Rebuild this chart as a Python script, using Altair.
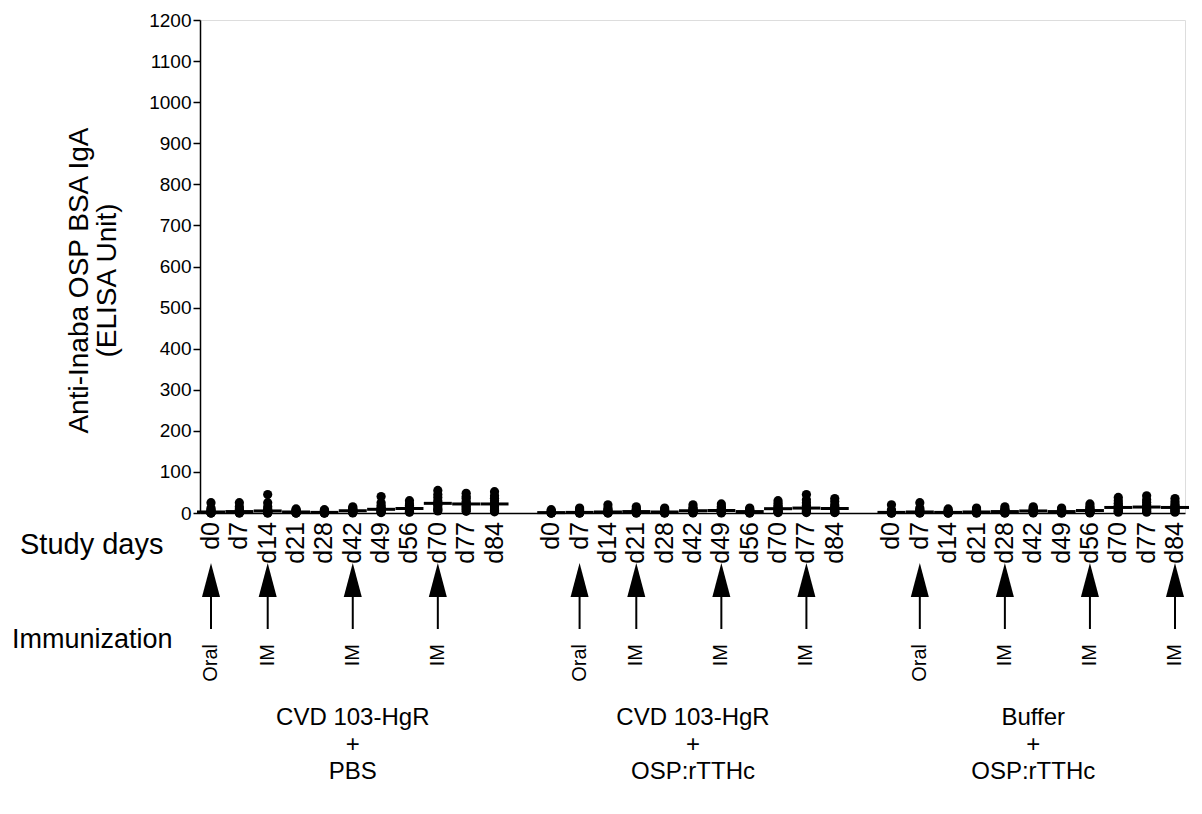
import altair as alt
import pandas as pd

FONT = "Liberation Sans"

group_labels = ["CVD 103-HgR\n+\nPBS", "CVD 103-HgR\n+\nOSP:rTTHc", "Buffer\n+\nOSP:rTTHc"]
days = ["d0", "d7", "d14", "d21", "d28", "d42", "d49", "d56", "d70", "d77", "d84"]

# ELISA units per animal, one list per study day
g1_values = [
    [0, 0, 0, 1, 2, 3, 5, 8, 12, 25],
    [0, 0, 1, 2, 3, 4, 6, 10, 15, 25],
    [0, 0, 1, 2, 4, 6, 10, 15, 25, 45],
    [0, 0, 0, 1, 2, 3, 4, 5, 7, 10],
    [0, 0, 0, 1, 1, 2, 3, 4, 6, 8],
    [0, 1, 2, 3, 5, 6, 8, 10, 12, 15],
    [1, 2, 4, 6, 8, 10, 14, 18, 25, 40],
    [2, 3, 5, 8, 10, 12, 15, 18, 22, 30],
    [5, 8, 12, 18, 22, 25, 30, 38, 45, 55],
    [4, 8, 12, 16, 20, 24, 28, 35, 40, 48],
    [3, 6, 10, 15, 20, 24, 30, 36, 42, 52],
]
g2_values = [
    [0, 0, 0, 0, 1, 1, 2, 3, 5, 8],
    [0, 0, 0, 1, 1, 2, 3, 5, 8, 12],
    [0, 0, 1, 1, 2, 3, 5, 8, 12, 20],
    [0, 0, 1, 2, 3, 4, 6, 8, 10, 15],
    [0, 0, 1, 1, 2, 3, 4, 6, 8, 12],
    [0, 1, 2, 3, 5, 6, 8, 10, 14, 20],
    [0, 1, 2, 4, 5, 7, 9, 12, 16, 22],
    [0, 0, 1, 2, 3, 4, 5, 7, 9, 12],
    [1, 2, 4, 6, 9, 12, 15, 18, 24, 30],
    [1, 3, 5, 8, 10, 14, 18, 25, 32, 45],
    [1, 2, 4, 7, 10, 12, 16, 20, 28, 35],
]
g3_values = [
    [0, 0, 0, 1, 1, 2, 3, 5, 8, 20],
    [0, 0, 1, 1, 2, 3, 5, 8, 12, 25],
    [0, 0, 0, 1, 1, 2, 3, 4, 6, 10],
    [0, 0, 1, 1, 2, 3, 4, 6, 8, 12],
    [0, 0, 1, 2, 3, 4, 5, 8, 10, 15],
    [0, 1, 2, 3, 4, 6, 8, 10, 12, 15],
    [0, 0, 1, 2, 3, 4, 5, 7, 9, 12],
    [0, 1, 2, 3, 5, 7, 9, 12, 16, 22],
    [2, 4, 6, 9, 12, 15, 18, 24, 30, 38],
    [2, 4, 7, 10, 13, 16, 20, 26, 32, 42],
    [2, 4, 6, 9, 12, 15, 18, 22, 28, 35],
]
immun_days = [["d0", "d14", "d42", "d70"], ["d7", "d21", "d49", "d77"], ["d7", "d28", "d56", "d84"]]
immun_routes = [["Oral", "IM", "IM", "IM"], ["Oral", "IM", "IM", "IM"], ["Oral", "IM", "IM", "IM"]]
y_ticks = list(range(0, 1201, 100))

all_values = [g1_values, g2_values, g3_values]
SLOTS_PER_GROUP = len(days) + 1

pts, lbls, arrows, grp = [], [], [], []
for g, gvals in enumerate(all_values):
    for i, d in enumerate(days):
        slot = g * SLOTS_PER_GROUP + i
        lbls.append({"slot": slot, "day": d})
        for v in gvals[i]:
            pts.append({"slot": slot, "value": v})
    for d, r in zip(immun_days[g], immun_routes[g]):
        arrows.append({"slot": g * SLOTS_PER_GROUP + days.index(d), "route": r})
    grp.append({"slot": g * SLOTS_PER_GROUP + (len(days) - 1) / 2, "label": group_labels[g]})

pts_df = pd.DataFrame(pts)
lbl_df = pd.DataFrame(lbls)
arr_df = pd.DataFrame(arrows)
grp_df = pd.DataFrame(grp)

xscale = alt.Scale(domain=[-0.388, 34.353], nice=False, zero=False)
yscale = alt.Scale(domain=[0, 1200], nice=False)

xaxis = alt.Axis(labels=False, ticks=False, grid=False, title=None, domainColor="black", domainWidth=1.5)
yaxis = alt.Axis(values=y_ticks, format="d", grid=False, title=["Anti-Inaba OSP BSA IgA", "(ELISA Unit)"],
                 tickSize=7, tickWidth=1.5, tickColor="black", domainColor="black", domainWidth=1.5,
                 labelFont=FONT, labelFontSize=19, labelColor="black", labelPadding=2,
                 titleFont=FONT, titleFontSize=28, titleFontWeight="normal", titleColor="black",
                 titleLineHeight=28, titlePadding=27, titleY=260)

base_x = alt.X("slot:Q", scale=xscale, axis=xaxis)

points = alt.Chart(pts_df).mark_circle(size=85, color="black", opacity=1).encode(
    x=base_x, y=alt.Y("value:Q", scale=yscale, axis=yaxis)
)
medians = alt.Chart(pts_df).transform_aggregate(
    median="median(value)", groupby=["slot"]
).mark_tick(orient="horizontal", size=28, thickness=3, color="black", opacity=1).encode(
    x=alt.X("slot:Q", scale=xscale), y=alt.Y("median:Q", scale=yscale)
)
day_text = alt.Chart(lbl_df).mark_text(angle=270, align="right", baseline="middle",
                                       font=FONT, fontSize=25, color="black").encode(
    x=alt.X("slot:Q", scale=xscale), y=alt.value(502), text="day:N"
)
side = pd.DataFrame({"t": ["Study days", "Immunization"], "ypix": [525, 620],
                     "xpix": [-180, -188], "fs": [29, 27]})
side_text = alt.Chart(side).mark_text(align="left", baseline="middle", font=FONT,
                                      color="black").encode(
    x=alt.X("xpix:Q", scale=None), y=alt.Y("ypix:Q", scale=None), text="t:N",
    size=alt.Size("fs:Q", scale=None, legend=None)
)
shafts = alt.Chart(arr_df).mark_rule(strokeWidth=2, color="black").encode(
    x=alt.X("slot:Q", scale=xscale), y=alt.value(576), y2=alt.value(609)
)
heads = alt.Chart(arr_df).mark_point(shape="M-0.53,1L0,-1L0.53,1Z", size=1156, filled=True,
                                     color="black", opacity=1, strokeWidth=0).encode(
    x=alt.X("slot:Q", scale=xscale), y=alt.value(560)
)
routes = alt.Chart(arr_df).mark_text(angle=270, align="right", baseline="middle", font=FONT,
                                     fontSize=20, color="black").encode(
    x=alt.X("slot:Q", scale=xscale), y=alt.value(624), text="route:N"
)
groups_text = alt.Chart(grp_df).mark_text(align="center", baseline="top", lineBreak="\n",
                                          lineHeight=27, font=FONT, fontSize=24, color="black").encode(
    x=alt.X("slot:Q", scale=xscale), y=alt.value(686), text="label:N"
)

chart = alt.layer(points, medians, day_text, side_text, shafts, heads, routes, groups_text).properties(
    width=985, height=493,
    padding={"left": 4, "top": 3, "right": 0, "bottom": 4},
).configure_view(stroke=None).configure(background="white")

chart.save("out.html", embed_options={"renderer": "svg", "actions": False})
